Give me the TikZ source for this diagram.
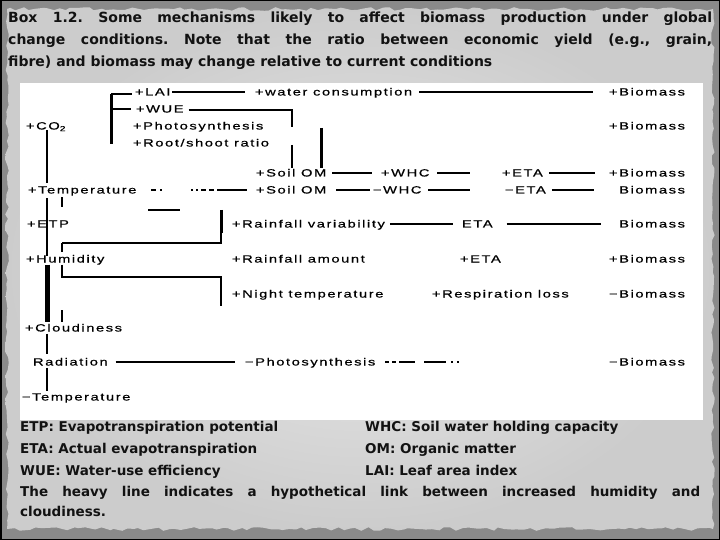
\documentclass[tikz,border=0pt]{standalone}
\usepackage{fontspec}
\setmainfont{DejaVu Sans}
\newfontfamily\dgfont[FakeStretch=1.4,LetterSpace=15,FakeBold=0.6]{Liberation Sans}
\usetikzlibrary{calc,decorations.pathmorphing}
\frenchspacing

\definecolor{frame}{RGB}{138,138,138}
\definecolor{paperin}{RGB}{234,234,234}
\definecolor{paperout}{RGB}{204,204,204}
\definecolor{ink}{RGB}{18,18,18}

\tikzset{
  lbl/.style={anchor=west, inner sep=0pt, outer sep=0pt, text height=7pt, text depth=0pt,
    font=\dgfont\fontsize{10.5}{12}\selectfont},
  bio/.style={lbl, anchor=east},
  key/.style={anchor=west, inner sep=0pt, text height=10pt, text depth=0pt, text=ink,
    font=\bfseries\fontsize{13.5}{16}\selectfont},
  link/.style={line width=1.1pt},
  heavy/.style={line width=3pt},
  heaviest/.style={line width=5pt},
}

\begin{document}
\begin{tikzpicture}[x=1pt,y=-1pt]
  \useasboundingbox (0,0) rectangle (720,540);

  % frame and torn paper
  \fill[frame] (0,0) rectangle (720,540);
  \pgfmathsetseed{7}
  \shade[decorate, decoration={random steps,segment length=6pt,amplitude=1.8pt},
    inner color=paperin, outer color=paperout] (7,9) rectangle (713,529);
  \draw[black, line width=1.5pt] (0.75,0.75) rectangle (719.25,539.25);
  \fill[white] (20,83) rectangle (703,420);

  % caption
  \node[anchor=north west, inner sep=0pt, text width=704pt, align=justify, text=ink,
    font=\bfseries\fontsize{14}{22}\selectfont] (title) at (8,12)
    {Box 1.2. Some mechanisms likely to affect biomass production under global\linebreak
     change conditions. Note that the ratio between economic yield (e.g., grain,\linebreak
     fibre) and biomass may change relative to current conditions};

  % left column
  \node[lbl] (co2)   at (26,126) {+CO\textsubscript{2}};
  \node[lbl] (tempP) at (28,190) {+Temperature};
  \node[lbl] (etp)   at (27,224) {+ETP};
  \node[lbl] (hum)   at (26,259) {+Humidity};
  \node[lbl] (cloud) at (25,328) {+Cloudiness};
  \node[lbl] (rad)   at (33,362) {Radiation};
  \node[lbl] (tempM) at (22,397) {−Temperature};

  % second column
  \node[lbl] (lai)   at (135,92)  {+LAI};
  \node[lbl] (wue)   at (136,109) {+WUE};
  \node[lbl] (photo) at (133,126) {+Photosynthesis};
  \node[lbl] (root)  at (133,143) {+Root/shoot ratio};
  \node[lbl] (rvar)  at (232,224) {+Rainfall variability};
  \node[lbl] (ramt)  at (232,259) {+Rainfall amount};
  \node[lbl] (night) at (232,294) {+Night temperature};
  \node[lbl] (photoM) at (245,362) {−Photosynthesis};

  % middle columns
  \node[lbl] (wcons) at (255,92)  {+water consumption};
  \node[lbl] (somA)  at (256,173) {+Soil OM};
  \node[lbl] (somB)  at (256,190) {+Soil OM};
  \node[lbl] (whcA)  at (381,173) {+WHC};
  \node[lbl] (whcB)  at (373,190) {−WHC};
  \node[lbl] (etaA)  at (502,173) {+ETA};
  \node[lbl] (etaB)  at (505,190) {−ETA};
  \node[lbl] (etaC)  at (462,224) {ETA};
  \node[lbl] (etaD)  at (460,259) {+ETA};
  \node[lbl] (resp)  at (432,294) {+Respiration loss};

  % biomass column
  \node[bio] (bmA) at (685,92)  {+Biomass};
  \node[bio] (bmB) at (685,126) {+Biomass};
  \node[bio] (bmC) at (685,173) {+Biomass};
  \node[bio] (bmD) at (685,190) {Biomass};
  \node[bio] (bmE) at (685,224) {Biomass};
  \node[bio] (bmF) at (685,259) {+Biomass};
  \node[bio] (bmG) at (685,294) {−Biomass};
  \node[bio] (bmH) at (685,362) {−Biomass};

  % bracket of the CO2 effects
  \coordinate (brT) at (111,94);
  \coordinate (brB) at (111,144);
  \draw[heavy] (brT) -- (brB);
  \draw[link, shorten >=3pt] (brT) -- (brT -| lai.west);
  \draw[link, shorten >=5pt] (brT |- wue) -- (wue.west);

  % upper rows
  \draw[link, shorten <=2pt, shorten >=10pt] (lai) -- (wcons);
  \draw[link, shorten <=7pt, shorten >=16pt] (wcons) -- (bmA);
  \coordinate (wueR) at (292,110);
  \draw[link, shorten <=5pt] (wue.east |- wueR) -- (wueR) -- ++(0,17);
  \draw[link, shorten >=1pt] (wueR |- root) ++(0,2) -- (wueR |- somA.north);
  \coordinate (tk) at (321,128);
  \draw[heavy, shorten >=1pt] (tk) -- (tk |- somA.north);

  % soil organic matter rows
  \draw[link, shorten <=6pt, shorten >=9pt]  (somA) -- (whcA);
  \draw[link, shorten <=8pt, shorten >=32pt] (whcA) -- (etaA);
  \draw[link, shorten <=6pt, shorten >=14pt] (etaA) -- (bmC);
  \draw[link, dash pattern=on 5pt off 4pt on 2pt off 29pt on 2pt off 3pt on 2pt off 3pt on 5pt off 3pt on 5pt off 3pt on 60pt,
    shorten <=15pt, shorten >=9pt] (tempP) -- (somB);
  \draw[link, shorten <=10pt, shorten >=3pt]  (somB) -- (whcB);
  \draw[link, shorten <=7pt, shorten >=35pt]  (whcB) -- (etaB);
  \draw[link, shorten <=6pt, shorten >=25pt]  (etaB) -- (bmD);

  % rainfall rows
  \draw[link, shorten <=5pt, shorten >=9pt]  (rvar) -- (etaC);
  \draw[link, shorten <=14pt, shorten >=18pt] (etaC) -- (bmE);

  % radiation row
  \draw[link, shorten <=8pt, shorten >=10pt] (rad) -- (photoM);
  \draw[link, dash pattern=on 4pt off 3pt on 4pt off 3pt on 16pt off 9pt on 22pt off 5pt on 2pt off 4pt on 2pt off 200pt,
    shorten <=10pt] (photoM) -- (bmH);

  % left spine
  \coordinate (sp) at (47,0);
  \coordinate (sq) at (62,0);
  \draw[line width=2pt, shorten <=1pt, shorten >=3pt] (co2.south -| sp) -- (tempP.north -| sp);
  \draw[line width=1.5pt, shorten <=5pt] (tempP.south -| sp) -- (hum.north -| sp);
  \draw[heaviest, xshift=-1pt, shorten <=2pt, shorten >=3pt] (hum.south -| sp) -- (cloud.north -| sp);
  \draw[line width=2pt, shorten <=2pt, shorten >=5pt] (cloud.south -| sp) -- (rad.north -| sp);
  \draw[line width=2pt, shorten <=2pt, shorten >=3pt] (rad.south -| sp) -- (tempM.north -| sp);

  % temperature and humidity to the rainfall rows
  \coordinate (rvTop) at (221,210);
  \coordinate (rvBot) at (221,243);
  \coordinate (ntTop) at (221,277);
  \coordinate (ntBot) at (221,306);
  \draw[line width=1.5pt] (tempP.south -| sq) ++(0,4) -- ++(0,10);
  \draw[link] (rvBot -| sq) -- (rvBot) -- (rvTop);
  \draw[link] (rvBot -| sq) -- ++(0,9);
  \draw[heavy] (rvTop) -- ++(0,23);
  \draw[link] ([xshift=-73pt]rvTop) -- ([xshift=-41pt]rvTop);
  \draw[line width=1.5pt] (hum.south -| sq) ++(0,2) -- (ntTop -| sq) -- (ntTop) -- (ntBot);
  \draw[line width=2pt] (cloud.north -| sq) ++(0,-3) -- ++(0,-12);

  % legend
  \node[key] (kETP) at (20,426)  {ETP: Evapotranspiration potential};
  \node[key] (kWHC) at (365,426) {WHC: Soil water holding capacity};
  \node[key] (kETA) at (20,448)  {ETA: Actual evapotranspiration};
  \node[key] (kOM)  at (365,448) {OM: Organic matter};
  \node[key] (kWUE) at (20,470)  {WUE: Water-use efficiency};
  \node[key] (kLAI) at (365,470) {LAI: Leaf area index};
  \node[anchor=north west, inner sep=0pt, text width=680pt, align=justify, text=ink,
    font=\bfseries\fontsize{13.5}{20}\selectfont] (note) at (20,486.5)
    {The heavy line indicates a hypothetical link between increased humidity and\linebreak
     cloudiness.};
\end{tikzpicture}
\end{document}
